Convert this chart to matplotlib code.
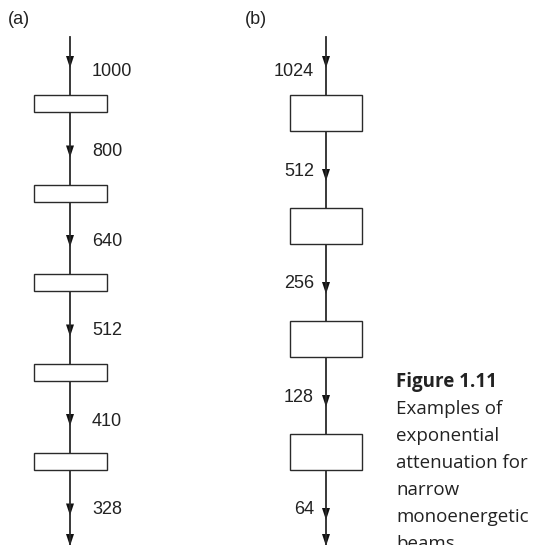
import matplotlib.pyplot as plt
from matplotlib.patches import Rectangle, Polygon

# beam intensities after each absorber
values_a = [1000, 800, 640, 512, 410, 328]
values_b = [1024, 512, 256, 128, 64]
panel_labels = ["(a)", "(b)"]
caption_title = "Figure 1.11"
caption_lines = ["Examples of", "exponential", "attenuation for", "narrow",
                 "monoenergetic", "beams."]

fig = plt.figure(figsize=(5.35, 5.45), dpi=100)
ax = fig.add_axes([0, 0, 1, 1])
ax.set_xlim(0, 535)
ax.set_ylim(545, 0)
ax.axis("off")

lc = "#2a2a2a"
num_font = dict(family="Liberation Sans", fontsize=13, color="#222222")


def arrowhead(x, tip):
    ax.add_patch(Polygon([(x - 4, tip - 12), (x + 4, tip - 12), (x, tip)],
                         closed=True, color="#111111", lw=0))


# panel (a): thin absorbers
xa = 70
ax.plot([xa, xa], [37, 545], color=lc, lw=1.3)
shift_a = [4, -6, -6, -6, -5, -6]
for i, v in enumerate(values_a):
    top = 95 + i * 89.5
    tip = top - 27
    arrowhead(xa, tip)
    ax.text(92, tip + shift_a[i], str(v), ha="left", va="center", **num_font)
    if i < len(values_a) - 1:
        ax.add_patch(Rectangle((34, top), 73, 17, facecolor="white",
                               edgecolor=lc, lw=1.0, zorder=3))
arrowhead(xa, 546)

# panel (b): thick absorbers
xb = 326
ax.plot([xb, xb], [37, 545], color=lc, lw=1.3)
shift_b = [4, -10, -10, -10, -11]
for i, v in enumerate(values_b):
    top = 95 + i * 113
    tip = top - 27
    arrowhead(xb, tip)
    ax.text(314, tip + shift_b[i], str(v), ha="right", va="center", **num_font)
    if i < len(values_b) - 1:
        ax.add_patch(Rectangle((290, top), 72, 36, facecolor="white",
                               edgecolor=lc, lw=1.0, zorder=3))
arrowhead(xb, 546)

ax.text(8, 20, panel_labels[0], ha="left", va="center", **num_font)
ax.text(245, 20, panel_labels[1], ha="left", va="center", **num_font)

# caption
ax.text(396, 387, caption_title, ha="left", va="baseline", family="Open Sans",
        fontsize=13.5, fontweight="bold", color="#222222")
for k, line in enumerate(caption_lines):
    ax.text(396, 414 + k * 27, line, ha="left", va="baseline", family="Open Sans",
            fontsize=13.5, color="#222222")

fig.savefig("out.png", dpi=100)
